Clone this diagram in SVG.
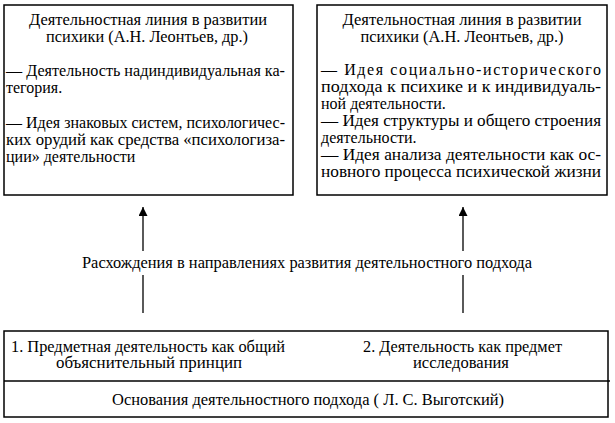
<svg xmlns="http://www.w3.org/2000/svg" width="615" height="423" viewBox="0 0 615 423">
<style>
  .box{fill:#fff;stroke:#000;stroke-width:1.5}
  .ln{stroke:#000;stroke-width:1.3;fill:none}
  .t{font-family:'Liberation Serif','Times New Roman',serif;font-size:16px;fill:#000}
  .c{text-anchor:middle}
</style>
<defs>
  <marker id="ah" markerUnits="userSpaceOnUse" markerWidth="10" markerHeight="9" refX="9" refY="4.5" orient="auto">
    <path d="M0,0 L9,4.5 L0,9 z" fill="#000"/>
  </marker>
</defs>
<rect width="615" height="423" fill="#fff"/>
<g class="t">
<g id="node-left">
  <rect class="box" x="4" y="5" width="289" height="190"/>
  <text class="c" x="148" y="25" textLength="238" lengthAdjust="spacingAndGlyphs">Деятельностная линия в развитии</text>
  <text class="c" x="147" y="42" textLength="202" lengthAdjust="spacingAndGlyphs">психики (А.Н. Леонтьев, др.)</text>
  <text x="6" y="76" textLength="279" lengthAdjust="spacingAndGlyphs">— Деятельность надиндивидуальная ка-</text>
  <text x="6" y="93">тегория.</text>
  <text x="6" y="128" textLength="279" lengthAdjust="spacingAndGlyphs">— Идея знаковых систем, психологичес-</text>
  <text x="6" y="145" textLength="279" lengthAdjust="spacingAndGlyphs">ких орудий как средства «психологиза-</text>
  <text x="6" y="162">ции» деятельности</text>
</g>
<g id="node-right">
  <rect class="box" x="317" y="5" width="290" height="190"/>
  <text class="c" x="462" y="25" textLength="239" lengthAdjust="spacingAndGlyphs">Деятельностная линия в развитии</text>
  <text class="c" x="462" y="42" textLength="203" lengthAdjust="spacingAndGlyphs">психики (А.Н. Леонтьев, др.)</text>
  <text x="321" y="75" textLength="280" lengthAdjust="spacing">— Идея социально-исторического</text>
  <text x="321" y="92" textLength="280" lengthAdjust="spacingAndGlyphs">подхода к психике и к индивидуаль-</text>
  <text x="321" y="109">ной деятельности.</text>
  <text x="321" y="126" textLength="280" lengthAdjust="spacingAndGlyphs">— Идея структуры и общего строения</text>
  <text x="321" y="143">деятельности.</text>
  <text x="321" y="160" textLength="280" lengthAdjust="spacingAndGlyphs">— Идея анализа деятельности как ос-</text>
  <text x="321" y="177" textLength="280" lengthAdjust="spacingAndGlyphs">новного процесса психической жизни</text>
</g>
<g id="node-middle">
  <text class="c" x="307" y="268" textLength="450" lengthAdjust="spacingAndGlyphs">Расхождения в направлениях развития деятельностного подхода</text>
</g>
<g id="node-bottom">
  <rect class="box" x="4" y="331" width="604" height="86"/>
  <line class="ln" x1="4" y1="381" x2="610" y2="381"/>
  <text x="11" y="352" textLength="274" lengthAdjust="spacingAndGlyphs">1. Предметная деятельность как общий</text>
  <text class="c" x="149" y="368" textLength="186" lengthAdjust="spacingAndGlyphs">объяснительный принцип</text>
  <text x="363" y="352" textLength="199" lengthAdjust="spacingAndGlyphs">2. Деятельность как предмет</text>
  <text class="c" x="461" y="368" textLength="96" lengthAdjust="spacingAndGlyphs">исследования</text>
  <text class="c" x="308" y="405" textLength="392" lengthAdjust="spacingAndGlyphs">Основания деятельностного подхода ( Л. С. Выготский)</text>
</g>
</g>
<g id="connectors">
  <line class="ln" x1="143" y1="251" x2="143" y2="207" marker-end="url(#ah)"/>
  <line class="ln" x1="143" y1="313" x2="143" y2="275"/>
  <line class="ln" x1="463" y1="251" x2="463" y2="207" marker-end="url(#ah)"/>
  <line class="ln" x1="463" y1="313" x2="463" y2="275"/>
</g>
</svg>
